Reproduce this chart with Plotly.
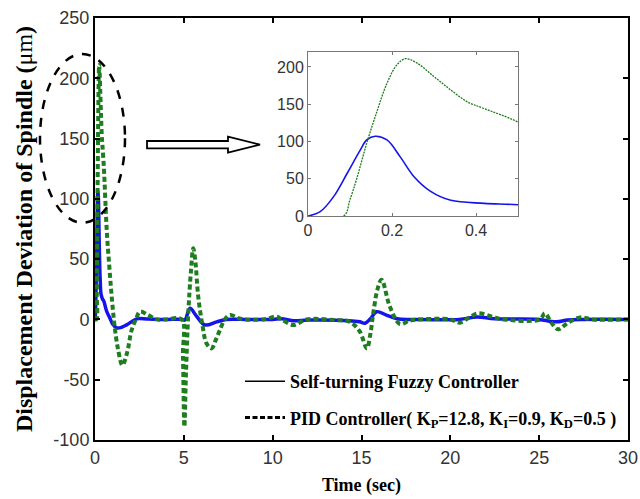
import plotly.graph_objects as go

# ---- data ----
t_fuzzy = [0, 0.029, 0.061, 0.093, 0.124, 0.14, 0.16, 0.188, 0.22, 0.252, 0.292, 0.34, 0.42, 0.5,
           0.65, 0.84, 1.0, 1.22, 1.5, 1.78, 2.1, 2.35, 3.0, 4.0, 4.9, 5.06, 5.35, 5.7,
           6.19, 6.85, 7.4, 8.5, 10.0, 10.5, 11.2, 12.0, 14.3, 14.9, 15.2, 15.5, 15.85,
           16.4, 17.0, 18.0, 20.5, 21.5, 22.5, 25.0, 25.6, 26.0, 26.6, 27.5, 30]
y_fuzzy = [0, 5.8, 26, 57, 88, 102, 107, 102, 79, 53, 33, 21, 17, 15,
           7, 1, -4, -7, -6.5, -4.5, -1.5, 0.5, 0.3, 0, 0, -0.5, 9.2, 3,
           -4.6, -2, 0, 0, 0, 0.5, -1, -0.5, -1, -2, -3.2, 0.5, 6.4,
           3.6, 0.5, 0, 0, 2, 0.5, 0, -1.5, -2, -0.5, 0, 0]

t_pid = [0, 0.085, 0.1, 0.116, 0.14, 0.164, 0.188, 0.212, 0.232, 0.26, 0.30, 0.34, 0.38, 0.42,
         0.5, 0.66, 0.8, 0.94, 1.1, 1.3, 1.54, 1.8, 2.06, 2.3, 2.53, 3.0, 3.47, 4.0,
         4.88, 4.95, 5.03, 5.12, 5.25, 5.4, 5.53, 5.65, 5.81, 6.05, 6.28, 6.56, 6.8,
         7.03, 7.3, 7.6, 8.2, 9.5, 10.22, 10.5, 11.16, 11.9, 13.5, 14.35, 14.9, 15.3,
         15.5, 15.66, 15.9, 16.13, 16.6, 17.16, 17.7, 18.3, 20.0, 20.54, 21.0, 21.57,
         22.4, 23.0, 25.04, 25.32, 25.7, 26.07, 26.6, 27.3, 28.0, 30]
y_pid = [0, 0, 22, 50, 98, 140, 178, 203, 211, 205, 187, 169, 153, 144,
         126, 74, 45, 19, -5, -25, -38, -28, -9, 0, 6.4, 3.6, 0, 0,
         0, -30, -89, -45, 5, 40, 59, 48, 19, -5, -20, -24, -17,
         -8.8, 0, 3.6, 0.5, 0, 2.3, 0, -4.6, 0, -0.5, -2, -10, -24,
         -12, 5, 25, 33, 10.5, -3.8, -1, 0, 0, -2.7, 1, 5,
         2, 0, 0, 5, -3, -8.2, -3, 1.7, 0, 0]

x_ticks = [0, 5, 10, 15, 20, 25, 30]
y_ticks = [-100, -50, 0, 50, 100, 150, 200, 250]
y_tick_labels = ["-100", "-50", "0", "50", "100", "150", "200", "250"]
inset_x_ticks = [0, 0.2, 0.4]
inset_x_labels = ["0", "0.2", "0.4"]
inset_y_ticks = [0, 50, 100, 150, 200]

legend_names = ["Self-turning Fuzzy Controller",
                "PID Controller( K<sub>P</sub>=12.8, K<sub>I</sub>=0.9, K<sub>D</sub>=0.5 )"]

BLUE = "rgb(20,20,235)"
GREEN = "rgb(30,125,30)"

fig = go.Figure()

# main traces
fig.add_trace(go.Scatter(x=t_fuzzy, y=y_fuzzy, mode="lines", line=dict(color=BLUE, width=3.5, shape="spline"),
                         showlegend=False, xaxis="x", yaxis="y"))
fig.add_trace(go.Scatter(x=t_pid, y=y_pid, mode="lines",
                         line=dict(color=GREEN, width=4, dash="5px,3px", shape="spline"),
                         showlegend=False, xaxis="x", yaxis="y"))
# inset traces
fig.add_trace(go.Scatter(x=t_fuzzy, y=y_fuzzy, mode="lines", line=dict(color=BLUE, width=1.6, shape="spline"),
                         showlegend=False, xaxis="x2", yaxis="y2"))
fig.add_trace(go.Scatter(x=t_pid, y=y_pid, mode="lines",
                         line=dict(color=GREEN, width=1.3, dash="2px,1px", shape="spline"),
                         showlegend=False, xaxis="x2", yaxis="y2"))
# legend entries (black samples, as in the reference)
fig.add_trace(go.Scatter(x=[None], y=[None], mode="lines", name="<b>" + legend_names[0] + "</b>",
                         line=dict(color="black", width=1.5), legendgroup="a"))
fig.add_trace(go.Scatter(x=[None], y=[None], mode="lines", name="<b>" + legend_names[1] + "</b>",
                         line=dict(color="black", width=3, dash="5px,2.5px"), legendgroup="b"))

tickfont = dict(family="Liberation Sans, Arial, sans-serif", size=18, color="#333333")
SERIF = "Liberation Serif, Times New Roman, serif"

L, R, T, B = 95, 12, 18, 59
W, H = 640, 499
PW, PH = W - L - R, H - T - B

def px(xp):
    return (xp - L) / PW

def py(yp):
    return (H - B - yp) / PH

fig.update_layout(
    width=W, height=H,
    margin=dict(l=L, r=R, t=T, b=B, autoexpand=False),
    paper_bgcolor="white", plot_bgcolor="white",
    xaxis=dict(range=[0, 30], tickvals=x_ticks, ticks="inside", ticklen=5, tickwidth=1.5,
               tickcolor="black", showline=True, linecolor="black", linewidth=2, mirror="ticks",
               showgrid=False, zeroline=False, tickfont=tickfont,
               title=dict(text="<b>Time (sec)</b>", font=dict(family=SERIF, size=18, color="black"),
                          standoff=12)),
    yaxis=dict(range=[-100, 250], tickvals=y_ticks, ticktext=y_tick_labels, ticks="inside", ticklen=5,
               tickwidth=1.5, tickcolor="black", showline=True, linecolor="black", linewidth=2,
               mirror="ticks", showgrid=False, zeroline=False, tickfont=tickfont,
               title=dict(text="<b>Displacement Deviation of Spindle (</b>μm<b>)</b>",
                          font=dict(family=SERIF, size=24, color="black"), standoff=14)),
    xaxis2=dict(domain=[px(308), px(518)], anchor="y2", range=[0, 0.5], tickvals=inset_x_ticks,
                ticktext=inset_x_labels,
                ticks="inside", ticklen=3, tickcolor="#777777", showline=True, linecolor="#777777",
                linewidth=1, mirror="ticks", showgrid=False, zeroline=False,
                tickfont=dict(family=tickfont["family"], size=16, color="#333333")),
    yaxis2=dict(domain=[py(216), py(52)], anchor="x2", range=[0, 220], tickvals=inset_y_ticks,
                ticks="inside", ticklen=3, tickcolor="#777777", showline=True, linecolor="#777777",
                linewidth=1, mirror="ticks", showgrid=False, zeroline=False,
                tickfont=dict(family=tickfont["family"], size=16, color="#333333")),
    legend=dict(x=px(240), y=py(363), xanchor="left", yanchor="top", bgcolor="rgba(0,0,0,0)",
                font=dict(family=SERIF, size=18, color="black"),
                traceorder="grouped", tracegroupgap=10, itemwidth=40),
    showlegend=True,
)

# dashed ellipse highlighting the zoomed region
fig.add_shape(type="circle", xref="paper", yref="paper",
              x0=px(40), x1=px(125), y0=py(222.7), y1=py(54),
              line=dict(color="black", width=2.5, dash="dash"))

# hollow arrow
pts = [(147, 141), (228, 141), (228, 136.7), (260, 144.7), (228, 152.7), (228, 148.3), (147, 148.3)]
path = "M " + " L ".join(f"{px(a):.4f},{py(b):.4f}" for a, b in pts) + " Z"
fig.add_shape(type="path", xref="paper", yref="paper", path=path,
              line=dict(color="black", width=1.8), fillcolor="white")

fig.write_html("out.html")
